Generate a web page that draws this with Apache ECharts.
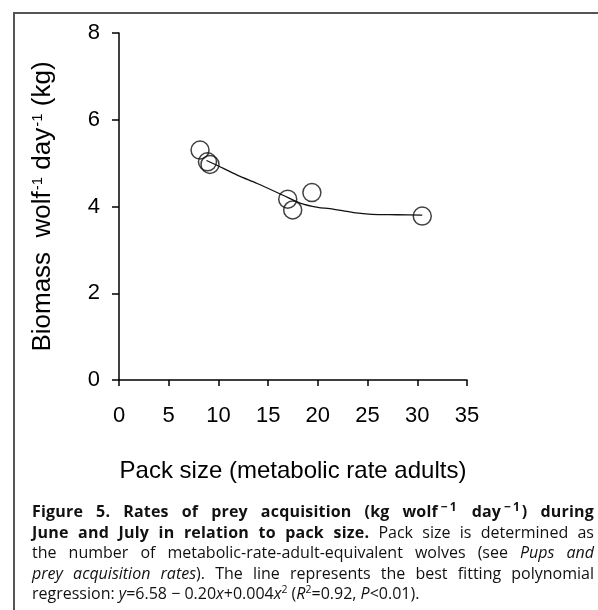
<!DOCTYPE html>
<html>
<head>
<meta charset="utf-8">
<script src="https://cdn.jsdelivr.net/npm/echarts@6/dist/echarts.min.js"></script>
<style>
  html, body { margin: 0; padding: 0; background: #fff; overflow: hidden; width: 598px; height: 610px; }
  #frame { position: absolute; left: 13px; top: 12px; width: 585px; height: 598px;
           border-left: 2px solid #555; border-top: 2px solid #555; box-sizing: border-box; }
  #chart { position: absolute; left: 0; top: 0; width: 598px; height: 610px; }
  #caption { position: absolute; left: 32px; top: 501px; width: 562px;
             font-family: "Open Sans", sans-serif; font-size: 16px; line-height: 20.6px; color: #111; }
  #caption b { letter-spacing: 0.2px; }
  #caption .l { text-align: justify; text-align-last: justify; white-space: nowrap; }
  #caption .last { text-align: left; white-space: nowrap; }
  #caption sup { font-size: 10.5px; line-height: 0; vertical-align: 6px; }
  #caption sup.big { font-size: 12px; margin-left: 3px; letter-spacing: 2px; }
</style>
</head>
<body>
<div id="frame"></div>
<div id="chart"></div>
<div id="caption">
  <div class="l"><b>Figure 5. Rates of prey acquisition (kg wolf<sup class="big">−1</sup> day<sup class="big">−1</sup>) during</b></div>
  <div class="l"><b>June and July in relation to pack size.</b> Pack size is determined as</div>
  <div class="l">the number of metabolic-rate-adult-equivalent wolves (see <i>Pups and</i></div>
  <div class="l"><i>prey acquisition rates</i>). The line represents the best fitting polynomial</div>
  <div class="last">regression: <i>y</i>=6.58 − 0.20<i>x</i>+0.004<i>x</i><sup>2</sup> (<i>R</i><sup>2</sup>=0.92, <i>P</i>&lt;0.01).</div>
</div>
<script>
// Observed packs
const packSize = [8.15, 8.9, 9.15, 16.97, 17.47, 19.4, 30.5];
const biomass  = [5.30, 5.03, 4.97, 4.17, 3.92, 4.32, 3.78];
// Fitted curve
const fitX = [8.8, 10.5, 12.0, 13.9, 16.5, 18.2, 20.0, 21.2, 23.6, 25.4, 28.0, 30.5];
const fitY = [5.06, 4.88, 4.71, 4.53, 4.26, 4.08, 3.98, 3.95, 3.86, 3.82, 3.81, 3.80];
// Axis ticks
const xTicks = [0, 5, 10, 15, 20, 25, 30, 35];
const yTicks = [0, 2, 4, 6, 8];

const chart = echarts.init(document.getElementById('chart'), null, { renderer: 'canvas' });
const font = 'Liberation Sans, Arial, sans-serif';
chart.setOption({
  animation: false,
  backgroundColor: 'transparent',
  grid: { left: 119, right: 131, top: 33, bottom: 230 },
  xAxis: {
    type: 'value', min: xTicks[0], max: xTicks[xTicks.length - 1], interval: xTicks[1] - xTicks[0],
    name: 'Pack size (metabolic rate adults)', nameLocation: 'middle', nameGap: 79,
    nameTextStyle: { fontFamily: font, fontSize: 24, color: '#000' },
    axisLine: { show: true, lineStyle: { color: '#000', width: 1.5 } },
    axisTick: { show: true, inside: false, length: 6, lineStyle: { color: '#000', width: 1.5 } },
    axisLabel: { fontFamily: font, fontSize: 22, color: '#000', margin: 25 },
    splitLine: { show: false }
  },
  yAxis: {
    type: 'value', min: yTicks[0], max: yTicks[yTicks.length - 1], interval: yTicks[1] - yTicks[0],
    name: '{n|Biomass  wolf}{s|-1}{n| day}{s|-1}{n| (kg)}', nameLocation: 'middle', nameGap: 63, nameRotate: 90,
    nameTextStyle: {
      fontFamily: font, fontSize: 26, color: '#000',
      rich: {
        n: { fontFamily: font, fontSize: 26, color: '#000' },
        s: { fontFamily: font, fontSize: 15, color: '#000', verticalAlign: 'top', padding: [0, 0, 7, 1] }
      }
    },
    axisLine: { show: true, lineStyle: { color: '#000', width: 1.5 } },
    axisTick: { show: true, inside: false, length: 7, lineStyle: { color: '#000', width: 1.5 } },
    axisLabel: { fontFamily: font, fontSize: 22, color: '#000', margin: 19 },
    splitLine: { show: false }
  },
  series: [
    {
      type: 'line',
      data: fitX.map((x, i) => [x, fitY[i]]),
      showSymbol: false, smooth: 0.3,
      lineStyle: { color: '#111', width: 1.3 },
      z: 2
    },
    {
      type: 'scatter',
      data: packSize.map((x, i) => [x, biomass[i]]),
      symbol: 'circle', symbolSize: 18,
      itemStyle: { color: 'rgba(0,0,0,0)', borderColor: '#111', borderWidth: 1.5 },
      z: 3
    }
  ]
});
</script>
</body>
</html>
